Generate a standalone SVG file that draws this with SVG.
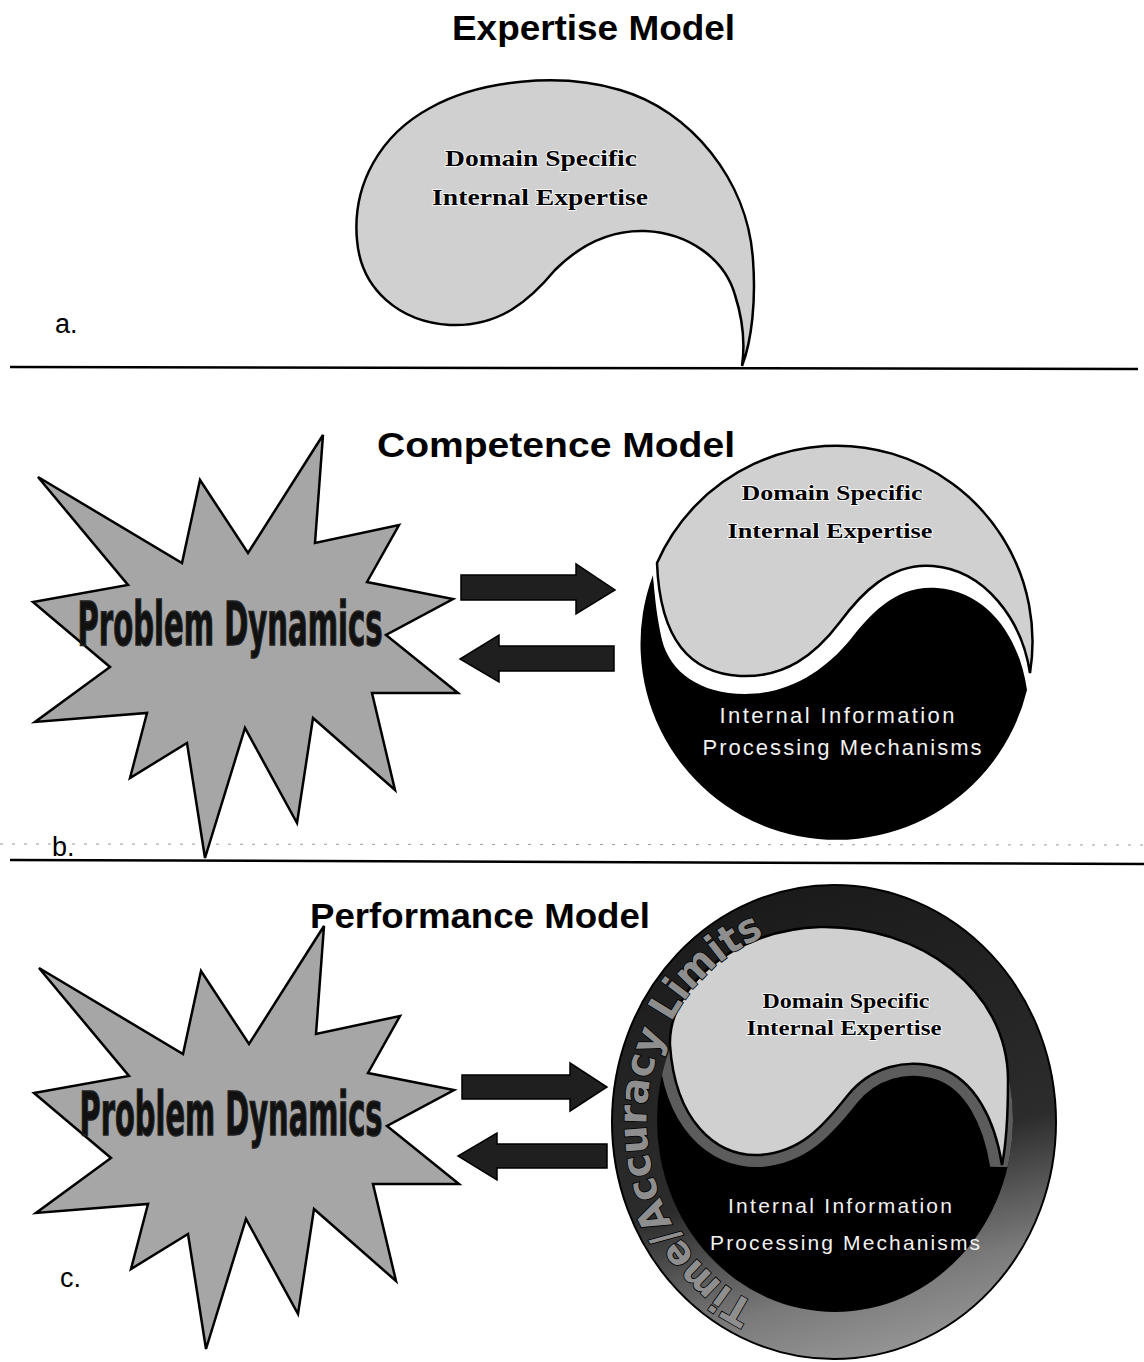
<svg xmlns="http://www.w3.org/2000/svg" width="1144" height="1362" viewBox="0 0 1144 1362">
<style>
.title{font-family:"Liberation Sans",Arial,sans-serif;font-weight:bold;font-size:35px;fill:#000}
.lbl{font-family:"Liberation Sans",Arial,sans-serif;font-size:27px;fill:#000}
.dom{font-family:"Liberation Serif","Times New Roman",serif;font-weight:bold;fill:#000;stroke:#fff;stroke-width:1.6px;paint-order:stroke;text-anchor:middle}
.ipm{font-family:"Liberation Sans",Arial,sans-serif;fill:#f2f2f2;text-anchor:middle}
.pd{font-family:"Liberation Sans Narrow","DejaVu Sans Condensed","Liberation Sans",sans-serif;font-weight:bold;font-size:60px;fill:#111;stroke:#222;stroke-width:1.4px;text-anchor:middle}
.ring{font-family:"Liberation Sans Narrow","DejaVu Sans Condensed","Liberation Sans",sans-serif;font-weight:bold;font-size:40px;fill:#8e8e8e;stroke:#000;stroke-width:1.5px;paint-order:stroke}
.star{fill:#a6a6a6;stroke:#000;stroke-width:2.5;stroke-linejoin:miter}
.light{fill:#d0d0d0;stroke:#000;stroke-width:2.5}
.arrow{fill:#1f1f1f;stroke:#000;stroke-width:1.5}
.sep{stroke:#000;stroke-width:2.5;fill:none}
</style>
<defs>
<path id="starShape" d="M38,477 L182,563 L200,480 L248,553 L323,435 L315,543 L399,525 L367,582 L453,599 L386,635 L458,693 L372,693 L395,790 L313,718 L297,823 L245,728 L205,858 L187,743 L130,778 L147,713 L35,722 L110,667 L33,602 L128,585 Z"/>
<linearGradient id="ringGrad" x1="0.35" y1="0" x2="0.6" y2="1">
<stop offset="0" stop-color="#1a1a1a"/>
<stop offset="0.6" stop-color="#2c2c2c"/>
<stop offset="0.85" stop-color="#7a7a7a"/>
<stop offset="1" stop-color="#959595"/>
</linearGradient>
<clipPath id="innerC"><ellipse cx="835" cy="1120" rx="178" ry="192"/></clipPath>
<path id="ringText" d="M755.4,1303.3 A185,199 0 0 1 773.4,932.9"/>
</defs>

<!-- Panel a -->
<g id="title-a"><text class="title" x="452" y="40" textLength="283" lengthAdjust="spacingAndGlyphs">Expertise Model</text></g>
<g id="expertise">
<path class="light" d="M742,366 C752,340 756,300 753,260 C748,180 690,110 620,90 C560,72 480,80 430,108 C380,135 352,185 357,240 C361,290 400,322 450,325 C500,327 530,300 555,270 C585,240 615,230 645,231 C690,233 725,260 735,295 C743,320 745,345 742,366 Z"/>
<text class="dom" x="541" y="166" font-size="24" textLength="192" lengthAdjust="spacingAndGlyphs">Domain Specific</text>
<text class="dom" x="540" y="205" font-size="24" textLength="216" lengthAdjust="spacingAndGlyphs">Internal Expertise</text>
</g>
<g id="label-a"><text class="lbl" x="55" y="333">a.</text></g>
<g id="separator-1"><line class="sep" x1="10" y1="367" x2="1138" y2="369"/></g>

<!-- Panel b -->
<g id="title-b"><text class="title" x="377" y="457" textLength="358" lengthAdjust="spacingAndGlyphs">Competence Model</text></g>
<g id="problem-b">
<use href="#starShape" class="star"/>
<text class="pd" x="230" y="645" textLength="305" lengthAdjust="spacingAndGlyphs">Problem Dynamics</text>
</g>
<g id="yinyang-b">
<path fill="#000" d="M653,575 A196,196 0 1 0 1027,690 C1020,640 990,592 937,588 C895,585 870,615 850,640 C825,670 790,694 745,694 C700,694 670,672 662,640 C657,618 655,600 653,575 Z"/>
<path fill="none" stroke="#fff" stroke-width="9" d="M657,563 A196,196 0 0 1 1030,673 C1022,620 985,570 933,566 C890,562 860,595 840,622 C815,655 785,678 740,676 C690,673 660,640 657,563 Z"/>
<path class="light" d="M657,563 A196,196 0 0 1 1030,673 C1022,620 985,570 933,566 C890,562 860,595 840,622 C815,655 785,678 740,676 C690,673 660,640 657,563 Z"/>
<text class="dom" x="832" y="500" font-size="21" textLength="181" lengthAdjust="spacingAndGlyphs">Domain Specific</text>
<text class="dom" x="830" y="538" font-size="21" textLength="205" lengthAdjust="spacingAndGlyphs">Internal Expertise</text>
<text class="ipm" x="837" y="723" font-size="22" textLength="235">Internal Information</text>
<text class="ipm" x="842" y="755" font-size="22" textLength="279">Processing Mechanisms</text>
</g>
<g id="label-b"><text class="lbl" x="52" y="856">b.</text></g>
<g id="scan-dots"><line x1="0" y1="844" x2="1144" y2="845" stroke="#9a9a9a" stroke-width="1" stroke-dasharray="3 9"/></g>
<g id="separator-2"><line class="sep" x1="10" y1="860" x2="1144" y2="864"/></g>

<!-- Panel c -->
<g id="title-c"><text class="title" x="310" y="928" textLength="340" lengthAdjust="spacingAndGlyphs">Performance Model</text></g>
<g id="problem-c">
<use href="#starShape" class="star" transform="translate(1,491)"/>
<text class="pd" x="231" y="1135" textLength="303" lengthAdjust="spacingAndGlyphs">Problem Dynamics</text>
</g>
<g id="yinyang-c">
<ellipse cx="834" cy="1122" rx="222" ry="237" fill="url(#ringGrad)" stroke="#000" stroke-width="2"/>
<ellipse cx="835" cy="1120" rx="178" ry="192" fill="#000"/>
<g clip-path="url(#innerC)">
<path fill="none" stroke="#5c5c5c" stroke-width="24" d="M670,1045 C668,990 730,930 820,927 C920,925 1008,990 1008,1080 C1008,1120 1006,1145 1002,1165 C995,1120 975,1080 940,1068 C905,1057 870,1068 848,1095 C822,1128 800,1152 760,1155 C715,1157 675,1120 670,1045 Z"/>
</g>
<path class="light" stroke-width="2" d="M670,1045 C668,990 730,930 820,927 C920,925 1008,990 1008,1080 C1008,1120 1006,1145 1002,1165 C995,1120 975,1080 940,1068 C905,1057 870,1068 848,1095 C822,1128 800,1152 760,1155 C715,1157 675,1120 670,1045 Z"/>
<text class="ring"><textPath href="#ringText" startOffset="0" textLength="115" lengthAdjust="spacingAndGlyphs">Time/</textPath></text>
<text class="ring"><textPath href="#ringText" startOffset="116" textLength="198" lengthAdjust="spacingAndGlyphs">Accuracy</textPath></text>
<text class="ring"><textPath href="#ringText" startOffset="326" textLength="130" lengthAdjust="spacingAndGlyphs">Limits</textPath></text>
<text class="dom" x="846" y="1008" font-size="20" textLength="167" lengthAdjust="spacingAndGlyphs">Domain Specific</text>
<text class="dom" x="844" y="1035" font-size="20" textLength="195" lengthAdjust="spacingAndGlyphs">Internal Expertise</text>
<text class="ipm" x="840" y="1213" font-size="21" textLength="224">Internal Information</text>
<text class="ipm" x="845" y="1250" font-size="21" textLength="270">Processing Mechanisms</text>
</g>
<g id="label-c"><text class="lbl" x="60" y="1287">c.</text></g>

<g id="connectors">
<polygon class="arrow" points="461,575 576,575 576,564 615,590 576,614 576,600 461,600"/>
<polygon class="arrow" points="614,646 499,646 499,635 460,659 499,682 499,671 614,671"/>
<polygon class="arrow" points="462,1075 570,1075 570,1063 607,1087 570,1111 570,1099 462,1099"/>
<polygon class="arrow" points="607,1144 497,1144 497,1133 458,1156 497,1180 497,1168 607,1168"/>
</g>
</svg>
